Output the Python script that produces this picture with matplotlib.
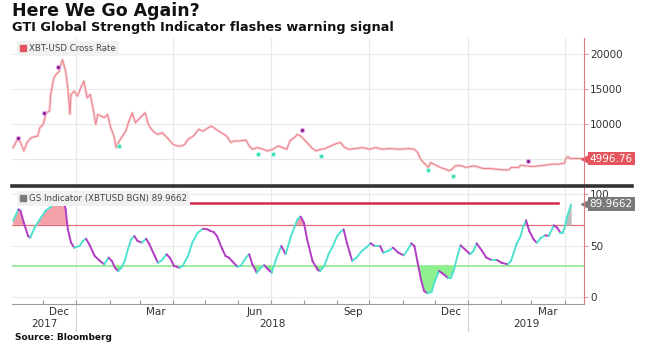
import numpy as np
import pandas as pd
import matplotlib
matplotlib.use("Agg")
import matplotlib.pyplot as plt
import matplotlib.dates as mdates
import matplotlib.transforms as mtransforms
from matplotlib.collections import LineCollection
from matplotlib.patches import Patch

# XBT-USD cross rate
price_dates = [
    "2017-11-03", "2017-11-07", "2017-11-10", "2017-11-13", "2017-11-16", "2017-11-20",
    "2017-11-26", "2017-11-28", "2017-12-01", "2017-12-04", "2017-12-07", "2017-12-08",
    "2017-12-11", "2017-12-13", "2017-12-16", "2017-12-19", "2017-12-22", "2017-12-24",
    "2017-12-26", "2017-12-27", "2017-12-30", "2018-01-02", "2018-01-05", "2018-01-08",
    "2018-01-11", "2018-01-14", "2018-01-17", "2018-01-19", "2018-01-21", "2018-01-24",
    "2018-01-27", "2018-01-30", "2018-02-02", "2018-02-05", "2018-02-07", "2018-02-10",
    "2018-02-13", "2018-02-16", "2018-02-19", "2018-02-22", "2018-02-25", "2018-02-28",
    "2018-03-03", "2018-03-06", "2018-03-09", "2018-03-12", "2018-03-15", "2018-03-18",
    "2018-03-22", "2018-03-25", "2018-03-28", "2018-04-01", "2018-04-05", "2018-04-09",
    "2018-04-12", "2018-04-15", "2018-04-20", "2018-04-25", "2018-04-29", "2018-05-04",
    "2018-05-07", "2018-05-11", "2018-05-16", "2018-05-21", "2018-05-25", "2018-05-28",
    "2018-06-02", "2018-06-08", "2018-06-11", "2018-06-14", "2018-06-19", "2018-06-24",
    "2018-06-28", "2018-07-03", "2018-07-08", "2018-07-12", "2018-07-16", "2018-07-19",
    "2018-07-23", "2018-07-26", "2018-07-29", "2018-08-01", "2018-08-04", "2018-08-08",
    "2018-08-12", "2018-08-17", "2018-08-21", "2018-08-26", "2018-08-31", "2018-09-04",
    "2018-09-08", "2018-09-12", "2018-09-18", "2018-09-25", "2018-10-01", "2018-10-07",
    "2018-10-13", "2018-10-19", "2018-10-29", "2018-11-07", "2018-11-12", "2018-11-15",
    "2018-11-17", "2018-11-19", "2018-11-22", "2018-11-25", "2018-11-27", "2018-12-02",
    "2018-12-06", "2018-12-11", "2018-12-14", "2018-12-17", "2018-12-20", "2018-12-25",
    "2018-12-30", "2019-01-06", "2019-01-10", "2019-01-15", "2019-01-21", "2019-01-27",
    "2019-02-02", "2019-02-08", "2019-02-10", "2019-02-17", "2019-02-19", "2019-02-24",
    "2019-03-02", "2019-03-08", "2019-03-14", "2019-03-20", "2019-03-26", "2019-04-01",
    "2019-04-02", "2019-04-04", "2019-04-06", "2019-04-17",
]
price_values = [
    6570, 7760, 7290, 6090, 7290, 8000,
    8230, 9430, 9900, 11570, 11800, 14190,
    16570, 17050, 17520, 19190, 17520, 15150,
    11330, 14190, 14660, 13950, 15150, 16100,
    13720, 14190, 11800, 9900, 11330, 11090,
    10860, 11330, 9430, 8230, 6570, 7520,
    8230, 8940, 10370, 11570, 10140, 10620,
    11090, 11570, 9900, 9190, 8710, 8470,
    8710, 8230, 7760, 7040, 6800, 6800,
    7040, 7760, 8230, 9190, 8940, 9430,
    9660, 9190, 8710, 8230, 7290, 7520,
    7520, 7660, 6800, 6330, 6570, 6330,
    6090, 6330, 6800, 6570, 6330, 7520,
    8000, 8470, 8230, 7760, 7290, 6570,
    6090, 6330, 6430, 6800, 7140, 7290,
    6570, 6330, 6430, 6570, 6330, 6570,
    6330, 6430, 6330, 6430, 6330, 5860,
    5140, 4660, 4190, 3720, 4430, 4040,
    3720, 3470, 3230, 3470, 3940, 4000,
    3720, 3940, 3800, 3570, 3570, 3470,
    3370, 3370, 3720, 3720, 4040, 3940,
    3850, 3940, 4040, 4190, 4190, 4330,
    5000, 5290, 5000, 4997,
]

# signal dots on the price panel
high_dates = ["2017-11-08", "2017-12-02", "2017-12-15", "2018-07-30", "2019-02-26"]
high_values = [7900, 11470, 18190, 9040, 4620]
low_dates = ["2018-02-10", "2018-06-19", "2018-07-03", "2018-08-17", "2018-11-25", "2018-12-18"]
low_values = [6760, 5720, 5620, 5370, 3330, 2430]

# GS indicator
gs_dates = [
    "2017-11-03", "2017-11-08", "2017-11-10", "2017-11-13", "2017-11-17", "2017-11-19",
    "2017-11-23", "2017-11-28", "2017-12-03", "2017-12-09", "2017-12-15", "2017-12-20",
    "2017-12-22", "2017-12-24", "2017-12-27", "2017-12-30", "2018-01-04", "2018-01-07",
    "2018-01-10", "2018-01-13", "2018-01-18", "2018-01-23", "2018-01-27", "2018-01-31",
    "2018-02-03", "2018-02-06", "2018-02-09", "2018-02-12", "2018-02-15", "2018-02-18",
    "2018-02-21", "2018-02-24", "2018-02-27", "2018-03-03", "2018-03-07", "2018-03-10",
    "2018-03-15", "2018-03-18", "2018-03-21", "2018-03-26", "2018-03-29", "2018-04-02",
    "2018-04-07", "2018-04-10", "2018-04-15", "2018-04-19", "2018-04-24", "2018-04-29",
    "2018-05-03", "2018-05-06", "2018-05-09", "2018-05-12", "2018-05-17", "2018-05-20",
    "2018-05-23", "2018-05-26", "2018-05-31", "2018-06-03", "2018-06-08", "2018-06-11",
    "2018-06-14", "2018-06-18", "2018-06-22", "2018-06-25", "2018-06-28", "2018-07-02",
    "2018-07-06", "2018-07-11", "2018-07-15", "2018-07-20", "2018-07-26", "2018-07-29",
    "2018-08-01", "2018-08-04", "2018-08-09", "2018-08-14", "2018-08-16", "2018-08-20",
    "2018-08-24", "2018-08-28", "2018-09-01", "2018-09-05", "2018-09-07", "2018-09-10",
    "2018-09-15", "2018-09-19", "2018-09-24", "2018-09-29", "2018-10-02", "2018-10-06",
    "2018-10-11", "2018-10-14", "2018-10-19", "2018-10-23", "2018-10-28", "2018-11-02",
    "2018-11-06", "2018-11-09", "2018-11-12", "2018-11-15", "2018-11-18", "2018-11-21",
    "2018-11-24", "2018-11-28", "2018-12-01", "2018-12-05", "2018-12-08", "2018-12-13",
    "2018-12-16", "2018-12-19", "2018-12-22", "2018-12-25", "2018-12-29", "2019-01-03",
    "2019-01-06", "2019-01-09", "2019-01-14", "2019-01-18", "2019-01-23", "2019-01-28",
    "2019-02-01", "2019-02-07", "2019-02-10", "2019-02-15", "2019-02-19", "2019-02-21",
    "2019-02-24", "2019-02-27", "2019-03-03", "2019-03-06", "2019-03-10", "2019-03-14",
    "2019-03-17", "2019-03-22", "2019-03-25", "2019-03-28", "2019-03-30", "2019-04-01",
    "2019-04-03", "2019-04-07",
]
gs_values = [
    73.8, 85.1, 83.5, 72.1, 59.2, 57.6,
    67.3, 75.4, 83.5, 88.3, 93.2, 94.9,
    85.1, 65.7, 52.7, 47.9, 49.5, 54.4,
    56.6, 51.2, 39.8, 35.0, 31.7, 38.2,
    35.0, 28.4, 25.2, 28.4, 35.0, 46.3,
    56.0, 59.2, 54.4, 52.7, 56.6, 51.2,
    39.8, 33.3, 35.0, 41.5, 38.2, 30.1,
    28.4, 30.1, 39.8, 52.7, 62.4, 66.3,
    65.7, 64.1, 63.0, 59.2, 46.3, 39.8,
    38.2, 35.0, 29.4, 30.1, 38.2, 41.5,
    31.7, 23.6, 28.4, 30.8, 27.5, 23.6,
    36.6, 49.5, 41.5, 59.2, 75.4, 78.0,
    72.1, 56.0, 35.0, 26.2, 25.2, 30.1,
    41.5, 49.5, 59.2, 64.1, 65.7, 52.7,
    35.0, 38.2, 44.7, 48.8, 52.1, 49.5,
    49.5, 43.0, 45.0, 47.9, 43.0, 40.5,
    46.3, 52.1, 49.5, 33.3, 17.2, 5.8,
    3.6, 4.9, 15.5, 25.2, 23.0, 18.7,
    18.7, 26.9, 39.8, 50.2, 46.3, 41.5,
    44.7, 52.1, 44.7, 38.2, 35.9, 35.9,
    33.3, 31.7, 35.0, 51.2, 59.2, 67.3,
    74.5, 64.1, 56.0, 52.7, 57.6, 59.9,
    59.2, 69.6, 67.3, 62.4, 62.4, 67.3,
    77.0, 89.9662,
]

upper_band = 70
lower_band = 30
resist_level = 91
resist_span = ["2018-04-12", "2019-03-26"]
last_price = 4996.76
last_gs = 89.9662
price_ticks = [5000, 10000, 15000, 20000]
price_ticklabels = ["", "10000", "15000", "20000"]  # 5000 sits under the last-price tag
gs_ticks = [0, 50, 100]
x_range = ["2017-11-02", "2019-04-19"]

RED = "#e5535c"
CYAN = "#4fe2cf"
MAGENTA = "#b23cc4"
GRID = "#e9e9e9"
TXT = "#333333"

W, H = 651, 359
fig = plt.figure(figsize=(W / 100, H / 100), dpi=100)
left, right = 12 / W, 584 / W
ax1 = fig.add_axes([left, 1 - 185 / H, right - left, 147 / H])
ax2 = fig.add_axes([left, 1 - 304 / H, right - left, 117 / H])

xmin, xmax = pd.to_datetime(x_range)
pdates = pd.to_datetime(price_dates)
gdates = mdates.date2num(pd.to_datetime(gs_dates))
gy = np.array(gs_values)

for ax in (ax1, ax2):
    ax.set_xlim(xmin, xmax)
    for s in ("left", "top", "bottom"):
        ax.spines[s].set_visible(False)
    ax.spines["right"].set_color("#e07b86")
    ax.spines["right"].set_linewidth(0.8)
    ax.yaxis.tick_right()
    ax.tick_params(axis="y", colors="#e07b86", labelcolor=TXT, labelsize=7.5,
                   length=3, width=0.6, pad=1.5)
    for q in pd.date_range(xmin, xmax, freq="QS"):
        ax.axvline(q, color=GRID, lw=0.8, zorder=0)

# ---- top panel: price
ax1.set_ylim(1200, 22300)
ax1.set_yticks(price_ticks)
ax1.set_yticklabels(price_ticklabels)
for t in price_ticks:
    ax1.axhline(t, color=GRID, lw=0.8, zorder=0)
ax1.set_xticks([])
ax1.plot(pdates, price_values, color="#f9d3d6", lw=2.0, solid_joinstyle="round", zorder=2)
ax1.plot(pdates, price_values, color="#e9808a", lw=0.7, zorder=3)
ax1.plot(pd.to_datetime(high_dates), high_values, "o", color="#7e1a86", ms=3.0,
         mec="#e9a6ee", mew=0.8, zorder=4)
ax1.plot(pd.to_datetime(low_dates), low_values, "o", color="#2fdcb0", ms=3.0,
         mec="#b8f5e6", mew=0.8, zorder=4)
leg1 = ax1.legend([Patch(color=RED)], ["XBT-USD Cross Rate"], loc="upper left",
                  bbox_to_anchor=(0.002, 1.01), fontsize=6.2, handlelength=0.7, handleheight=0.7,
                  handletextpad=0.3, borderpad=0.35, frameon=True, fancybox=False,
                  facecolor="#f1f1f1", edgecolor="none", framealpha=1)
for t in leg1.get_texts():
    t.set_color("#444444")

tr1 = mtransforms.blended_transform_factory(ax1.transAxes, ax1.transData)
ax1.plot([1.004], [last_price], marker="<", ms=6.5, color=RED, transform=tr1, clip_on=False)
ax1.text(1.010, last_price, f"{last_price:.2f}", transform=tr1, color="white", fontsize=7.5,
         va="center", ha="left",
         bbox=dict(boxstyle="square,pad=0.18", facecolor=RED, edgecolor="none"))

# ---- bottom panel: GS indicator
ax2.set_ylim(-6.8, 106.8)
ax2.set_yticks(gs_ticks)
for t in gs_ticks:
    ax2.axhline(t, color=GRID, lw=0.8, zorder=0)
ax2.axhline(upper_band, color="#e46a7c", lw=0.9, zorder=1)
ax2.axhline(lower_band, color="#8fe88f", lw=1.2, zorder=1)
ax2.plot(pd.to_datetime(resist_span), [resist_level, resist_level], color="#d42a4a", lw=1.8, zorder=2)

recent = gdates >= mdates.date2num(pd.Timestamp("2019-04-01"))
ax2.fill_between(gdates, gy, upper_band, where=(gy >= upper_band) & ~recent,
                 interpolate=True, color="#f4a0a8", lw=0, zorder=1)
ax2.fill_between(gdates, gy, upper_band, where=(gy >= upper_band) & recent,
                 interpolate=True, color="#bdbdbd", lw=0, zorder=1)
ax2.fill_between(gdates, gy, lower_band, where=gy <= lower_band,
                 interpolate=True, color="#8ef08e", lw=0, zorder=1)

pts = np.column_stack([gdates, gy])
segs = np.stack([pts[:-1], pts[1:]], axis=1)
cols = np.where(np.diff(gy) >= 0, CYAN, MAGENTA)
ax2.add_collection(LineCollection(segs, colors=cols, linewidths=1.4, capstyle="round",
                                  joinstyle="round", zorder=3))

leg2 = ax2.legend([Patch(color="#7a7a7a")], [f"GS Indicator (XBTUSD BGN) {last_gs}"],
                  loc="upper left", bbox_to_anchor=(0.002, 1.0), fontsize=6.2,
                  handlelength=0.7, handleheight=0.7, handletextpad=0.3, borderpad=0.35,
                  frameon=True, fancybox=False, facecolor="#f1f1f1", edgecolor="none",
                  framealpha=1)
for t in leg2.get_texts():
    t.set_color("#444444")

tr2 = mtransforms.blended_transform_factory(ax2.transAxes, ax2.transData)
ax2.plot([1.004], [last_gs], marker="<", ms=6.5, color="#7a7a7a", transform=tr2, clip_on=False)
ax2.text(1.010, last_gs, f"{last_gs}", transform=tr2, color="white", fontsize=7.5,
         va="center", ha="left",
         bbox=dict(boxstyle="square,pad=0.18", facecolor="#7a7a7a", edgecolor="none"))

# x axis: month ticks, quarter labels, year labels
ax2.spines["bottom"].set_visible(True)
ax2.spines["bottom"].set_color("#9a9a9a")
ax2.xaxis.set_major_locator(mdates.MonthLocator())
ax2.xaxis.set_major_formatter(plt.NullFormatter())
ax2.xaxis.set_minor_locator(mdates.MonthLocator(bymonth=[3, 6, 9, 12], bymonthday=16))
ax2.xaxis.set_minor_formatter(mdates.DateFormatter("%b"))
ax2.tick_params(axis="x", which="major", direction="in", length=3, color="#9a9a9a")
ax2.tick_params(axis="x", which="minor", length=0, labelsize=7.5, labelcolor=TXT, pad=2)

xa, xb = mdates.date2num(xmin), mdates.date2num(xmax)
for yr in range(xmin.year, xmax.year + 1):
    y0 = mdates.date2num(pd.Timestamp(f"{yr}-01-01"))
    y1 = mdates.date2num(pd.Timestamp(f"{yr + 1}-01-01"))
    mid = (max(y0, xa) + min(y1, xb)) / 2
    ax2.text(mid, -0.17, str(yr), transform=ax2.get_xaxis_transform(), ha="center",
             va="center", fontsize=7.5, color=TXT)
    if y0 > xa:
        ax2.plot([y0, y0], [0, -0.23], transform=ax2.get_xaxis_transform(),
                 color="#d0d0d0", lw=0.8, clip_on=False)

# divider between panels
fig.add_artist(plt.Line2D([12 / W, 632 / W], [1 - 186 / H, 1 - 186 / H], color="#333333", lw=2.6))

fig.text(12 / W, 1 - 2 / H, "Here We Go Again?", fontsize=12.5, fontweight="bold",
         va="top", ha="left", color="#111111")
fig.text(12 / W, 1 - 21 / H, "GTI Global Strength Indicator flashes warning signal",
         fontsize=9.3, fontweight="bold", va="top", ha="left", color="#111111")
fig.text(15 / W, 1 - 337 / H, "Source: Bloomberg", fontsize=6.5, fontweight="bold",
         va="center", ha="left", color="#111111")

fig.savefig("out.png", dpi=100)
